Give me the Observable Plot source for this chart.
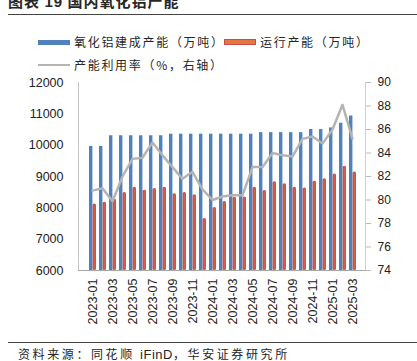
<!DOCTYPE html>
<html><head><meta charset="utf-8">
<script src="https://cdn.jsdelivr.net/npm/d3@7"></script>
<script src="https://cdn.jsdelivr.net/npm/@observablehq/plot@0.6"></script>
<style>
body{margin:0;background:#fff;}
#wrap{position:relative;width:417px;height:361px;overflow:hidden;font-family:"Noto Sans CJK SC",sans-serif;color:#262626;}
.title{position:absolute;left:8px;top:-7px;font-size:15px;font-weight:bold;line-height:16px;white-space:nowrap;letter-spacing:1px;}
.rule{position:absolute;left:8px;width:409px;height:1px;background:#444;}
.leg{position:absolute;font-size:12px;line-height:14px;height:14px;white-space:nowrap;display:flex;align-items:center;letter-spacing:1.7px;}
.sw{display:inline-block;width:32px;margin-right:4px;box-sizing:border-box;}
#chart{position:absolute;left:0;top:70px;}
.cap{position:absolute;left:18px;top:346px;font-size:12px;line-height:16px;white-space:nowrap;letter-spacing:2.6px;}
.cap .en{font-family:"Liberation Sans",Arial,sans-serif;letter-spacing:0.5px;font-size:13px;}
</style></head>
<body><div id="wrap">
<div class="title">图表 <span style="font-family:'Liberation Sans',Arial;">19</span> 国内氧化铝产能</div>
<div class="rule" style="top:14px"></div>
<div class="leg" style="left:38px;top:35px"><span class="sw" style="height:5px;background:#4f81bd"></span>氧化铝建成产能（万吨）</div>
<div class="leg" style="left:224px;top:35px"><span class="sw" style="height:6px;background:#e8743f;border:1.5px solid #c0504d"></span>运行产能（万吨）</div>
<div class="leg" style="left:38px;top:58px"><span class="sw" style="height:2.5px;background:#b4b4b4"></span>产能利用率（%，右轴）</div>
<div id="chart"></div>
<div class="rule" style="top:342px"></div>
<div class="cap">资料来源：同花顺 <span class="en">iFinD</span>，华安证券研究所</div>
</div>
<script>
const months = ["2023-01","2023-02","2023-03","2023-04","2023-05","2023-06","2023-07","2023-08","2023-09","2023-10","2023-11","2023-12",
  "2024-01","2024-02","2024-03","2024-04","2024-05","2024-06","2024-07","2024-08","2024-09","2024-10","2024-11","2024-12",
  "2025-01","2025-02","2025-03"];
const built = [9960, 9960, 10300, 10300, 10300, 10300, 10300, 10300, 10350, 10350, 10350, 10350, 10350, 10350, 10350, 10350, 10350,
  10400, 10400, 10400, 10400, 10400, 10500, 10500, 10550, 10700, 10930];
const running = [8120, 8180, 8270, 8490, 8660, 8560, 8620, 8660, 8450, 8490, 8420, 7660, 8010, 8200, 8340, 8345, 8660, 8550,
  8830, 8770, 8660, 8630, 8850, 8930, 9080, 9330, 9140];
const util = [80.8, 81.0, 79.9, 82.0, 83.5, 83.6, 84.9, 83.8, 82.8, 81.8, 82.4, 80.9, 80.0, 80.3, 80.4, 80.4, 82.8, 82.8,
  84.0, 83.8, 83.7, 85.2, 85.4, 84.8, 86.0, 88.1, 85.2];
const leftTicks = [6000, 7000, 8000, 9000, 10000, 11000, 12000];
const rightTicks = [74, 76, 78, 80, 82, 84, 86, 88, 90];
const xTicks = months.filter((m, i) => i % 2 === 0);

// right axis (74–90) mapped onto left scale (6000–12000)
const toLeft = v => 6000 + (v - 74) * 375;
const fromLeft = d => Math.round((d - 6000) / 375 + 74);

const data = months.map((m, i) => ({month: m, built: built[i], running: running[i], util: toLeft(util[i])}));
const font = "Liberation Sans, Arial, sans-serif";

const chart = Plot.plot({
  width: 417, height: 270,
  marginTop: 12, marginBottom: 70, marginLeft: 78, marginRight: 52,
  style: {fontFamily: font, fontSize: "12.5px", color: "#222", background: "transparent", overflow: "visible"},
  x: {type: "band", domain: months, padding: 0},
  y: {domain: [6000, 12000]},
  marks: [
    Plot.barY(data, {x: "month", y1: 6000, y2: "built", fill: "#4f81bd", insetLeft: 2, insetRight: 4.6}),
    Plot.barY(data, {x: "month", y1: 6000, y2: "running", fill: "#c9534a", insetLeft: 5.6, insetRight: 1, rx: 1.5}),
    Plot.barY(data, {x: "month", y1: 6000, y2: "running", fill: "#ea7a4c", fillOpacity: 0.55, insetLeft: 7, insetRight: 2.4, insetTop: 1}),
    Plot.lineY(data, {x: "month", y: "util", stroke: "#b4b4b4", strokeWidth: 2.5}),
    Plot.frame({anchor: "left", stroke: "#c4c4c4"}),
    Plot.frame({anchor: "right", stroke: "#d0d0d0"}),
    Plot.frame({anchor: "bottom", stroke: "#a8a8a8"}),
    Plot.axisY(leftTicks, {anchor: "left", tickSize: 0, tickPadding: 15, tickFormat: d => String(d), fontSize: 12.5, label: null}),
    Plot.axisY(rightTicks.map(toLeft), {anchor: "right", tickSize: 5, tickPadding: 7, stroke: "#bbb", tickFormat: d => String(fromLeft(d)), fontSize: 12, label: null}),
    Plot.axisX(xTicks, {anchor: "bottom", tickSize: 0, tickPadding: 8, tickRotate: -90, fontSize: 12.5, label: null})
  ]
});
document.getElementById("chart").appendChild(chart);
</script>
</body></html>
